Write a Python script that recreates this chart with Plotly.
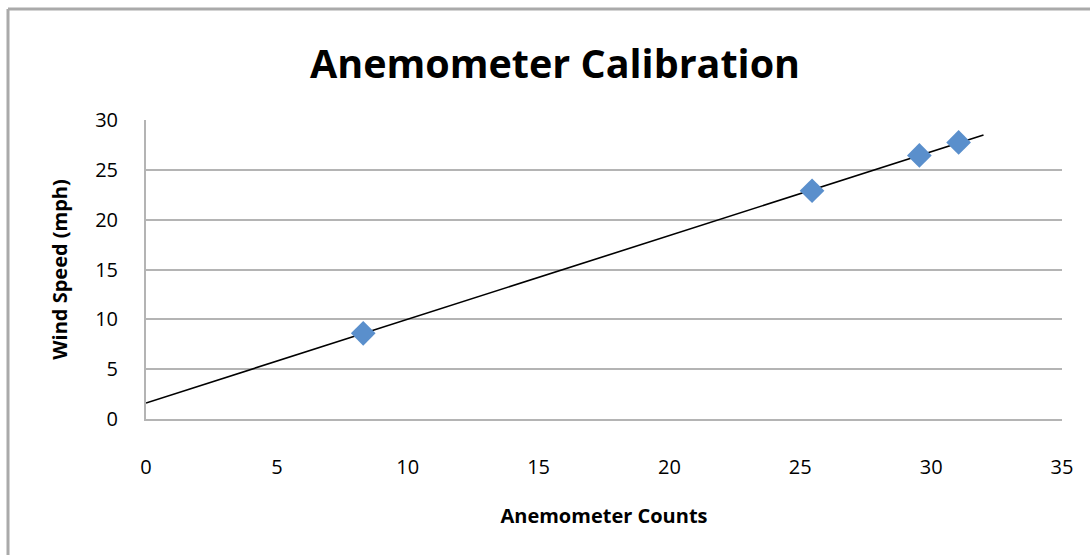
import numpy as np
import plotly.graph_objects as go

counts = [8.3, 25.45, 29.55, 31.05]
wind_speed = [8.6, 22.9, 26.45, 27.75]
trend_x_range = [0, 32]
x_ticks = [0, 5, 10, 15, 20, 25, 30, 35]
y_ticks = [0, 5, 10, 15, 20, 25, 30]

slope, intercept = np.polyfit(counts, wind_speed, 1)
tx = np.array(trend_x_range, dtype=float)
ty = slope * tx + intercept

W, H = 1090, 555
L, R, T, B = 146, 28, 120, 136
pw, ph = W - L - R, H - T - B

font = "Open Sans, Liberation Sans, sans-serif"
grid = "#B4B4B4"

fig = go.Figure()
fig.add_trace(go.Scatter(x=tx, y=ty, mode="lines",
                         line=dict(color="black", width=1.6),
                         showlegend=False, hoverinfo="skip"))
fig.add_trace(go.Scatter(x=counts, y=wind_speed, mode="markers",
                         marker=dict(symbol="diamond", size=19, color="#5A8FCC",
                                     line=dict(width=0)),
                         showlegend=False))

def px_x(p):
    return (p - L) / pw

def px_y(p):
    return (H - B - p) / ph

fig.update_layout(
    width=W, height=H,
    margin=dict(l=L, r=R, t=T, b=B, pad=0),
    paper_bgcolor="white", plot_bgcolor="white",
    title=dict(text="<b>Anemometer Calibration</b>", x=555 / W, xanchor="center",
               y=1 - 64 / H, yanchor="middle",
               font=dict(family=font, size=39.5, color="black")),
    xaxis=dict(range=[0, 35], tickvals=x_ticks, showgrid=False,
               showline=True, linecolor=grid, linewidth=2,
               ticks="", ticklabelstandoff=29,
               tickfont=dict(family=font, size=20, color="black"),
               title=dict(text="<b>Anemometer Counts</b>", standoff=30,
                          font=dict(family=font, size=20, color="black")),
               zeroline=False),
    yaxis=dict(range=[0, 30], tickvals=y_ticks, showgrid=True,
               gridcolor=grid, gridwidth=2,
               showline=True, linecolor=grid, linewidth=2,
               ticks="", ticklabelstandoff=22,
               tickfont=dict(family=font, size=20, color="black"),
               title=dict(text="<b>Wind Speed (mph)</b>", standoff=22,
                          font=dict(family=font, size=20, color="black")),
               zeroline=False),
    shapes=[
        dict(type="line", xref="paper", yref="paper",
             x0=px_x(8), x1=px_x(W), y0=px_y(9), y1=px_y(9),
             line=dict(color="#AAAAAA", width=3)),
        dict(type="line", xref="paper", yref="paper",
             x0=px_x(8), x1=px_x(8), y0=px_y(9), y1=px_y(H),
             line=dict(color="#AAAAAA", width=3)),
    ],
)

fig.write_html("out.html", config={"displayModeBar": False},
               post_script="document.body.style.margin='0';")
